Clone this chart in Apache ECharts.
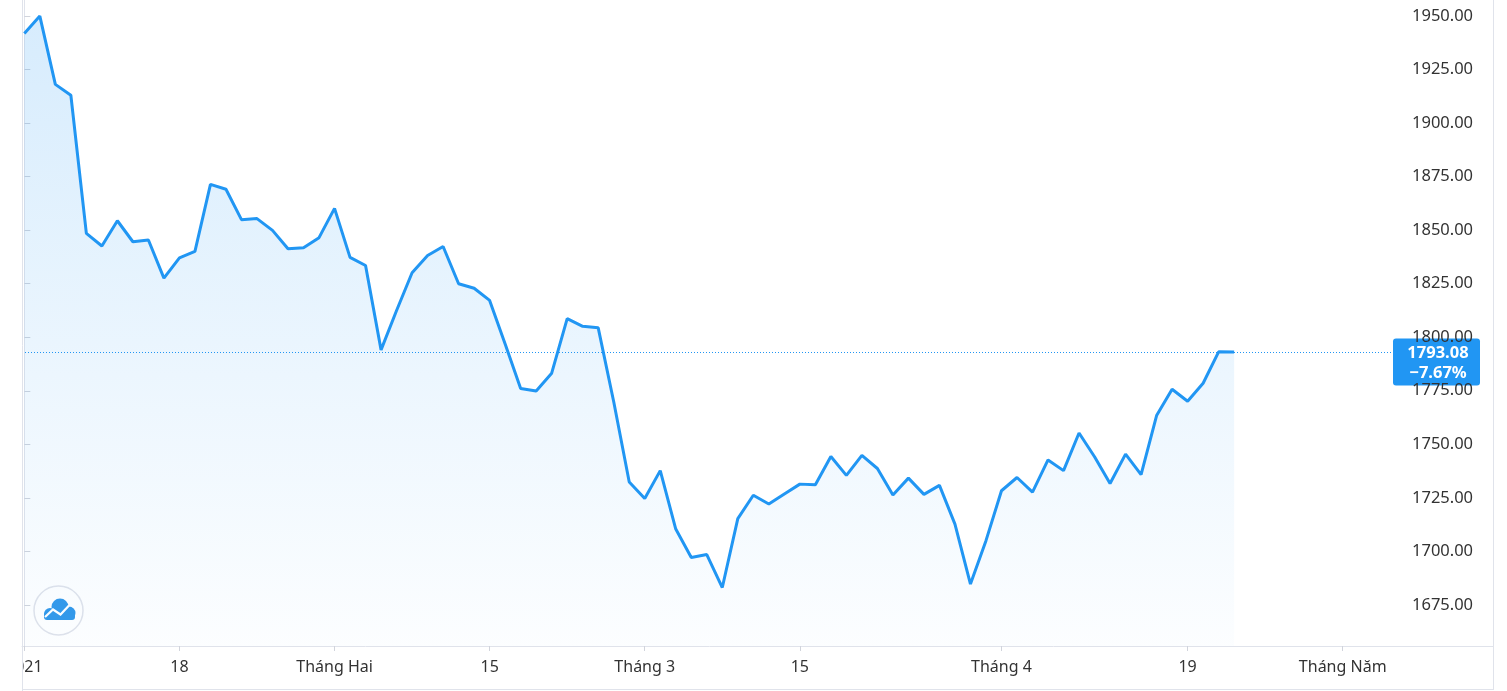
<!DOCTYPE html>
<html>
<head>
<meta charset="utf-8">
<script src="https://cdn.jsdelivr.net/npm/echarts@6/dist/echarts.min.js"></script>
<style>
html,body{margin:0;padding:0;background:#fff;}
#c{width:1507px;height:691px;}
</style>
</head>
<body>
<div id="c"></div>
<script>
// Daily closing prices (trading days from 4 Jan 2021)
const prices = [
  1941.9, 1950.0, 1918.1, 1913.0, 1848.5, 1842.6, 1854.4, 1844.6, 1845.4, 1827.6,
  1837.1, 1840.1, 1871.4, 1869.1, 1854.9, 1855.4, 1849.9, 1841.3, 1841.8, 1846.5,
  1860.2, 1837.3, 1833.5, 1794.1, 1812.5, 1830.1, 1838.2, 1842.4, 1825.0, 1822.9,
  1817.2, 1796.8, 1776.1, 1774.9, 1783.2, 1808.7, 1805.1, 1804.4, 1769.9, 1732.4,
  1724.7, 1737.7, 1710.4, 1697.1, 1698.5, 1683.1, 1715.3, 1726.2, 1722.1, 1726.8,
  1731.4, 1731.1, 1744.3, 1735.5, 1744.8, 1738.7, 1726.3, 1734.2, 1726.6, 1730.8,
  1712.7, 1684.7, 1705.0, 1728.3, 1734.5, 1727.7, 1742.7, 1737.7, 1755.3, 1744.2,
  1731.7, 1745.4, 1735.8, 1763.4, 1775.7, 1770.1, 1778.5, 1793.2, 1793.08
];
// Time-axis tick positions (trading-day index) and their labels
const timeTickIndex = [0, 10, 20, 30, 40, 50, 63, 75, 85];
const timeTickLabels = ['2021', '18', 'Tháng Hai', '15', 'Tháng 3', '15', 'Tháng 4', '19', 'Tháng Năm'];
// Price-axis tick values
const priceTicks = [1675, 1700, 1725, 1750, 1775, 1800, 1825, 1850, 1875, 1900, 1925, 1950];
const lastPrice = 1793.08;
const lastChange = '\u22127.67%';

const BLUE = '#2196f3';
const BORDER = '#e0e3eb';
const FONT = 'Noto Sans';

const chart = echarts.init(document.getElementById('c'), null, {renderer: 'canvas'});

chart.setOption({
  animation: false,
  backgroundColor: '#ffffff',
  grid: {left: 22, right: 110, top: 0, bottom: 45, containLabel: false},
  xAxis: {
    type: 'value',
    min: -0.15,
    max: 88.5,
    axisLine: {show: true, lineStyle: {color: BORDER, width: 1}},
    splitLine: {show: false},
    axisTick: {show: true, customValues: timeTickIndex, length: 5, lineStyle: {color: '#d1d4dc'}},
    axisLabel: {
      customValues: timeTickIndex,
      formatter: function (v) { return timeTickLabels[timeTickIndex.indexOf(Math.round(v))]; },
      color: '#333333', fontFamily: FONT, fontSize: 16, margin: 13
    }
  },
  yAxis: {
    type: 'value',
    position: 'right',
    min: 1655.8,
    max: 1957.5,
    axisLine: {show: true, lineStyle: {color: BORDER, width: 1}},
    splitLine: {show: false},
    axisTick: {show: true, customValues: priceTicks, length: 6, lineStyle: {color: '#d1d4dc'}},
    axisLabel: {
      customValues: priceTicks,
      formatter: function (v) { return v.toFixed(2); },
      color: '#333333', fontFamily: FONT, fontSize: 16.5, margin: 15
    }
  },
  series: [{
    type: 'line',
    data: prices.map(function (v, i) { return [i, v]; }),
    symbol: 'none',
    smooth: false,
    lineStyle: {color: BLUE, width: 3},
    areaStyle: {
      origin: 'start',
      color: new echarts.graphic.LinearGradient(0, 0, 0, 1, [
        {offset: 0, color: 'rgba(33,150,243,0.26)'},
        {offset: 1, color: 'rgba(33,150,243,0.02)'}
      ])
    },
    markLine: {
      silent: true,
      symbol: ['none', 'none'],
      label: {show: false},
      lineStyle: {color: BLUE, type: [1, 2], width: 1},
      data: [{yAxis: lastPrice}]
    },
    z: 3
  }]
});

const py = chart.convertToPixel({yAxisIndex: 0}, lastPrice);

chart.setOption({
  graphic: [
    // pane borders
    {type: 'line', shape: {x1: 22.5, y1: 0, x2: 22.5, y2: 691}, style: {stroke: BORDER, lineWidth: 1}, z: 10},
    {type: 'line', shape: {x1: 1397, y1: 646.5, x2: 1494, y2: 646.5}, style: {stroke: BORDER, lineWidth: 1}, z: 10},
    {type: 'line', shape: {x1: 22, y1: 689.5, x2: 1494, y2: 689.5}, style: {stroke: BORDER, lineWidth: 1}, z: 10},
    {type: 'line', shape: {x1: 1493.5, y1: 0, x2: 1493.5, y2: 690}, style: {stroke: BORDER, lineWidth: 1}, z: 10},
    // clip of the first time label left of the pane
    {type: 'rect', shape: {x: 0, y: 647, width: 22, height: 42}, style: {fill: '#ffffff'}, z: 20},
    // last price label
    {
      type: 'group', z: 30,
      children: [
        {type: 'rect', shape: {x: 1393, y: py - 13.5, width: 87, height: 47, r: 3}, style: {fill: BLUE}},
        {type: 'text', style: {x: 1438, y: py + 1, text: lastPrice.toFixed(2), fill: '#ffffff',
          font: 'bold 16.5px "Noto Sans"', align: 'center', verticalAlign: 'middle'}},
        {type: 'text', style: {x: 1438, y: py + 21.5, text: lastChange, fill: '#ffffff',
          font: 'bold 16.5px "Noto Sans"', align: 'center', verticalAlign: 'middle'}}
      ]
    },
    // logo
    {
      type: 'group', z: 30,
      children: [
        {type: 'circle', shape: {cx: 58.5, cy: 610.5, r: 24.5}, style: {fill: '#ffffff', stroke: BORDER, lineWidth: 1.5}},
        {type: 'circle', shape: {cx: 50, cy: 614, r: 6}, style: {fill: '#3399ea'}},
        {type: 'circle', shape: {cx: 60, cy: 607, r: 8.5}, style: {fill: '#3399ea'}},
        {type: 'circle', shape: {cx: 69, cy: 613, r: 6.5}, style: {fill: '#3399ea'}},
        {type: 'rect', shape: {x: 44, y: 612, width: 31, height: 8, r: 3}, style: {fill: '#3399ea'}},
        {type: 'polyline', shape: {points: [[45, 617], [53, 609.5], [60.5, 614.5], [69, 605.5]]},
          style: {stroke: '#ffffff', lineWidth: 2.2, fill: null}}
      ]
    }
  ]
});
</script>
</body>
</html>
